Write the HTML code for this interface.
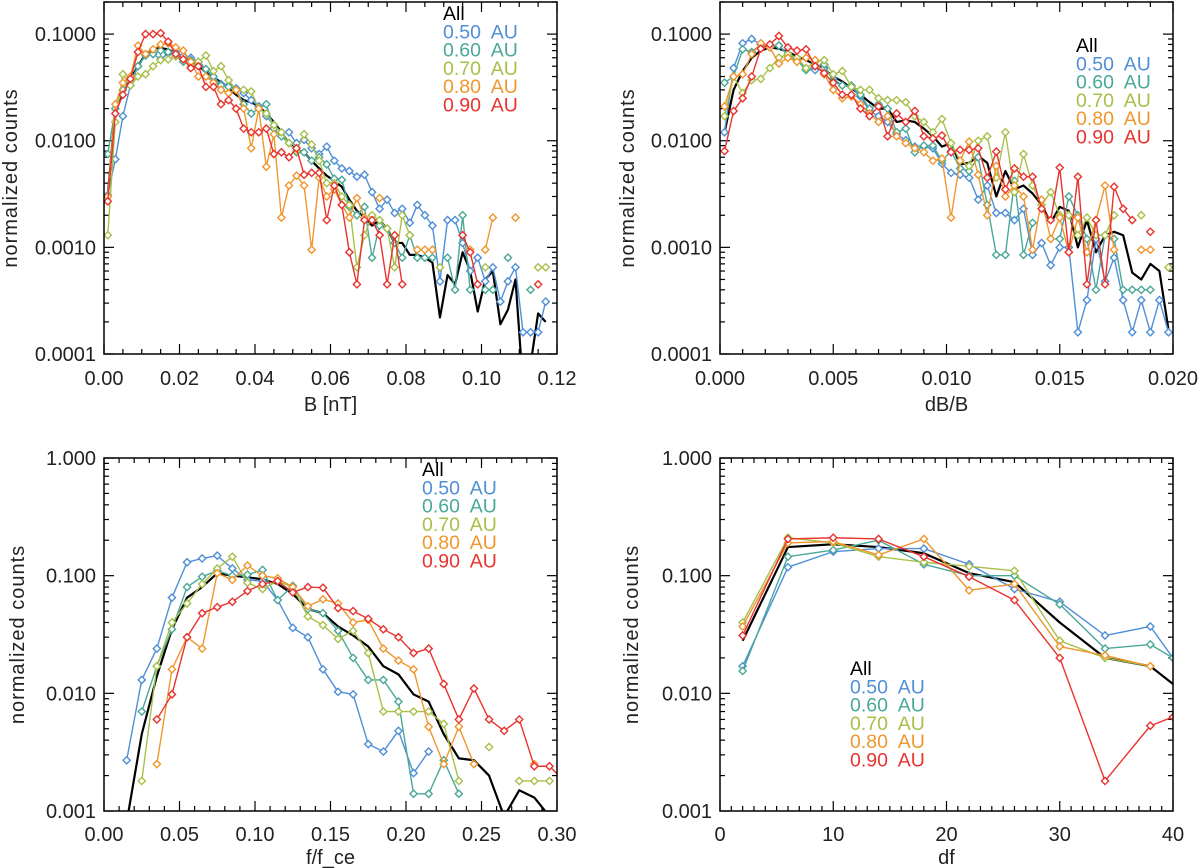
<!DOCTYPE html>
<html><head><meta charset="utf-8">
<style>
body{margin:0;background:#fff;}
svg{display:block;font-family:"Liberation Sans",sans-serif;}
</style></head>
<body>
<svg id="chart" width="1200" height="868" viewBox="0 0 1200 868" xmlns="http://www.w3.org/2000/svg"></svg>
<script>
// ---------- Panel A: B [nT] ----------
const aX0 = 0.001, aStep = 0.002;
const aAll = [0.003,0.02,0.028,0.038,0.05,0.065,0.072,0.074,0.072,0.066,0.06,0.055,0.05,0.044,0.04,0.035,0.031,0.027,0.024,0.023,0.021,0.018,0.015,0.012,0.0095,0.0082,0.0078,0.0065,0.0055,0.0047,0.0042,0.0037,0.0028,0.0022,0.0019,0.0016,0.0018,0.0015,0.0011,0.0011,0.00085,0.00085,0.0008,0.00072,0.00022,0.00055,0.00045,0.0009,0.0006,0.00025,0.0005,0.0006,0.00019,0.00026,0.0005,0.00005,0.00008,0.00024,0.0002];
const a50 = [0.0031,0.0067,0.017,0.033,0.05,0.064,0.065,0.058,0.066,0.068,0.062,0.06,0.055,0.047,0.038,0.034,0.033,0.031,0.028,0.024,0.021,0.017,0.014,0.012,0.012,0.0095,0.0102,0.0085,0.0075,0.0088,0.0065,0.0055,0.0052,0.0046,0.0048,0.0033,0.0023,0.0028,0.0021,0.0023,0.0017,0.0025,0.002,0.0016,0.00048,0.0018,0.0018,0.0011,0.0006,0.0008,0.00048,0.00065,0.00031,0.00048,0.00065,0.00016,0.00016,0.00016,0.00031];
const a60 = [0.0075,0.02,0.03,0.036,0.05,0.063,0.065,0.07,0.068,0.062,0.055,0.057,0.052,0.047,0.04,0.033,0.032,0.03,0.022,0.018,0.02,0.022,0.013,0.011,0.0095,0.0078,0.0078,0.0065,0.007,0.006,0.0044,0.0043,0.0024,0.002,0.0024,0.0008,0.0016,0.0015,0.0011,0.0008,0.0013,0.0008,0.0008,0.0008,null,0.0008,0.0004,0.002,0.0004,null,0.0004,0.0004,null,0.0008,null,null,0.0004,null,null];
const a70 = [0.0013,0.015,0.042,0.033,0.04,0.042,0.05,0.057,0.058,0.062,0.058,0.05,0.055,0.063,0.045,0.05,0.037,0.03,0.03,0.029,0.02,0.018,0.014,0.012,0.0095,0.008,0.0115,0.0092,0.0065,0.004,0.004,0.003,0.0025,0.00065,0.0013,0.002,0.0018,0.0015,0.00065,0.002,0.0013,null,null,null,0.00065,null,null,null,null,null,0.00065,null,null,null,null,null,null,0.00065,0.00065];
const a80 = [0.003,0.022,0.035,0.04,0.078,0.065,0.072,0.08,0.082,0.075,0.07,0.055,0.04,0.04,0.035,0.03,0.028,0.03,0.02,0.0085,0.02,0.0057,0.0115,0.0019,0.0038,0.0047,0.0038,0.00095,0.0045,0.003,0.0035,0.0025,0.0019,0.0029,0.0019,null,0.0029,null,null,null,null,0.00095,0.00095,0.00095,null,null,null,null,0.00095,null,0.00095,0.0019,null,null,0.0019,null,null,null,null];
const a90 = [0.0027,0.018,0.027,0.038,0.068,0.1,0.1,0.102,0.085,0.065,0.058,0.048,0.05,0.032,0.032,0.022,0.024,0.02,0.013,0.012,0.012,0.013,0.0075,0.0078,0.007,0.0085,0.0048,0.005,0.005,0.0018,0.0038,0.0025,0.0009,0.00045,0.0018,0.0018,0.0013,0.00045,0.0013,0.00045,null,null,null,null,null,null,null,0.0013,0.0009,0.00045,null,null,null,null,null,null,null,0.00045,null];
// ---------- Panel B: dB/B ----------
const bX0 = 0.0002, bStep = 0.0004;
const bAll = [0.012,0.03,0.045,0.06,0.07,0.075,0.073,0.068,0.062,0.057,0.052,0.047,0.04,0.036,0.031,0.027,0.023,0.02,0.02,0.015,0.0155,0.015,0.013,0.011,0.0088,0.0095,0.006,0.0062,0.0072,0.0062,0.003,0.0052,0.0035,0.0038,0.0032,0.0025,0.0017,0.0024,0.0022,0.001,0.0018,0.0009,0.0013,0.0014,0.0013,0.00058,0.0005,0.0007,0.0006,0.00017];
const b50 = [0.012,0.048,0.082,0.09,0.08,0.075,0.078,0.065,0.058,0.047,0.046,0.048,0.038,0.033,0.032,0.026,0.019,0.017,0.015,0.0115,0.0101,0.0088,0.0088,0.0085,0.0061,0.005,0.0048,0.0045,0.0028,0.0038,0.0021,0.0021,0.0018,0.0023,0.00085,0.0011,0.00068,0.001,0.001,0.00016,0.00032,0.0012,0.00048,0.0008,0.00032,0.00016,0.00032,0.00016,0.00032,0.00016];
const b60 = [0.035,0.04,0.072,0.068,0.08,0.078,0.078,0.063,0.057,0.046,0.05,0.052,0.036,0.033,0.033,0.027,0.02,0.022,0.02,0.012,0.013,0.0078,0.009,0.009,0.0065,0.008,0.0055,0.0052,0.007,0.0025,0.00085,0.00085,0.0042,0.00085,0.0017,null,0.0012,0.0012,0.003,0.002,0.0012,0.0004,0.0013,0.0012,0.0004,0.0004,0.0004,0.0004,null,null];
const b70 = [0.017,0.04,0.028,0.037,0.038,0.048,0.06,0.065,0.06,0.048,0.055,0.057,0.042,0.045,0.032,0.03,0.03,0.025,0.024,0.024,0.023,0.017,0.015,0.012,0.016,0.0095,0.0065,0.0058,0.01,0.011,0.0045,0.012,0.0033,0.0075,0.0038,0.0025,0.0033,0.002,0.002,0.0013,0.0019,0.0013,0.0013,0.002,null,null,0.002,null,null,0.00065];
const b80 = [0.021,0.04,0.042,0.065,0.082,0.075,0.053,0.06,0.055,0.06,0.057,0.042,0.03,0.025,0.026,0.022,0.018,0.015,0.017,0.011,0.0095,0.0085,0.0078,0.0065,0.0068,0.0019,0.0065,0.0098,0.0048,0.002,0.0058,0.003,0.0038,0.003,0.00095,0.0028,0.0012,0.0019,0.0009,0.0019,0.0009,0.0018,0.0038,0.00095,null,null,0.00095,0.00095,null,null];
const b90 = [0.008,0.019,0.025,0.04,0.073,0.08,0.096,0.075,0.07,0.072,0.05,0.043,0.035,0.027,0.027,0.02,0.017,0.021,0.011,0.018,0.015,0.019,0.011,0.0105,0.0112,0.0078,0.0082,0.0082,0.0085,0.0045,0.0079,0.0035,0.0055,0.0046,0.0046,0.0023,0.0018,0.0056,0.0009,0.0046,0.00045,0.0018,0.00045,0.0037,0.0023,0.0018,null,0.0014,null,null];
// ---------- Panel C: f/f_ce ----------
const cX0 = 0.015, cStep = 0.01;
const cAll = [0.0008,0.0045,0.014,0.035,0.065,0.08,0.105,0.1,0.097,0.093,0.085,0.07,0.052,0.048,0.037,0.031,0.025,0.017,0.0145,0.0098,0.0085,0.0045,0.0028,0.0027,0.002,0.0009,0.0015,0.0013,0.0009];
const c50 = [0.0027,0.013,0.024,0.065,0.13,0.14,0.148,0.115,0.092,0.09,0.062,0.036,0.03,0.016,0.0103,0.0098,0.0037,0.0032,0.0048,0.0021,0.0032];
const c60 = [null,0.007,0.017,0.035,0.08,0.098,0.11,0.1,0.102,0.112,0.062,0.082,0.052,0.048,0.034,0.02,0.013,0.013,0.0085,0.0014,0.0014,0.0027,0.0014];
const c70 = [null,0.0018,0.017,0.04,0.058,0.085,0.115,0.145,0.087,0.077,0.09,0.08,0.045,0.038,0.029,0.034,0.022,0.007,0.007,0.007,0.007,0.0055,0.0018,null,0.0035,null,0.0018,0.0018,0.0018];
const c80 = [null,null,0.0025,0.016,0.03,0.024,0.105,0.092,0.122,0.1,0.095,0.08,0.055,0.063,0.058,0.04,0.042,0.024,0.019,0.016,0.0052,0.0025,0.0052,0.0025,null,null,null,0.0025];
const c90 = [null,null,0.006,0.0098,0.03,0.048,0.054,0.06,0.074,0.085,0.09,0.072,0.08,0.079,0.053,0.05,0.043,0.035,0.03,0.022,0.024,0.012,0.006,0.011,0.006,0.0048,0.006,0.0024,0.0024,0.0018];
// ---------- Panel D: df ----------
const dXs = [2,6,10,14,18,22,26,30,34,38,40];
const dAll = [0.028,0.175,0.185,0.175,0.155,0.105,0.088,0.04,0.02,0.017,0.012];
const d50 = [0.017,0.118,0.16,0.17,0.17,0.125,0.077,0.06,0.031,0.037,0.02];
const d60 = [0.0155,0.145,0.165,0.2,0.125,0.1,0.1,0.057,0.024,0.026,0.02];
const d70 = [0.04,0.21,0.19,0.145,0.13,0.12,0.11,0.028,0.02,0.017];
const d80 = [0.037,0.19,0.195,0.15,0.205,0.075,0.085,0.025,0.021,0.017];
const d90 = [0.031,0.205,0.21,0.205,0.145,0.098,0.062,0.02,0.0018,0.0053,0.0063];

const legendLabels = ["All","0.50  AU","0.60  AU","0.70  AU","0.80  AU","0.90  AU"];
const colors = ["#000000","#4f8fd6","#4aa898","#a7c04a","#f0962e","#e8332e"];
const aTicks = ["0.00","0.02","0.04","0.06","0.08","0.10","0.12"];
const bTicks = ["0.000","0.005","0.010","0.015","0.020"];
const cTicks = ["0.00","0.05","0.10","0.15","0.20","0.25","0.30"];
const dTicks = ["0","10","20","30","40"];

const NS = "http://www.w3.org/2000/svg";
const svg = document.getElementById('chart');
function mk(tag, attrs, parent){const e=document.createElementNS(NS,tag);for(const k in attrs)e.setAttribute(k,attrs[k]);(parent||svg).appendChild(e);return e;}

function panel(cfg){
  const g = mk('g',{});
  
  
  const {L,R,T,B,xmin,xmax,ymin,ymax} = cfg;
  const sx = v => L + (v - xmin)/(xmax - xmin)*(R-L);
  const ly0 = Math.log10(ymin), ly1 = Math.log10(ymax);
  const sy = v => B - (Math.log10(v) - ly0)/(ly1 - ly0)*(B-T);
  const xAt = i => cfg.xs ? cfg.xs[i] : cfg.x0 + i*cfg.step;
  const cid = 'clip-' + cfg.name;
  const defs = mk('defs',{},g);
  const cp = mk('clipPath',{id:cid},defs);
  mk('rect',{x:L,y:T,width:R-L,height:B-T},cp);
  const ticks = mk('g',{stroke:'#000','stroke-width':1.2},g);
  
  
  for(let v=xmin, i=0; v<=xmax+1e-9; i++, v = xmin + i*cfg.xminor){
    const major = Math.abs(((v - xmin)/cfg.xmajor) - Math.round((v - xmin)/cfg.xmajor))<1e-6;
    const len = major?10:5, x = sx(v);
    mk('line',{x1:x,y1:B,x2:x,y2:B-len},ticks);
    mk('line',{x1:x,y1:T,x2:x,y2:T+len},ticks);
  }
  for(let d=Math.floor(ly0); d<=Math.ceil(ly1); d++){
    for(let m=1;m<10;m++){
      const v = m*Math.pow(10,d);
      if(v<ymin*0.999||v>ymax*1.001) continue;
      const len = m===1?10:5, y = sy(v);
      mk('line',{x1:L,y1:y,x2:L+len,y2:y},ticks);
      mk('line',{x1:R,y1:y,x2:R-len,y2:y},ticks);
    }
  }
  cfg.xTicks.forEach((t,i)=>{
    const tx = mk('text',{x:sx(xmin+i*cfg.xmajor),y:cfg.xLabelY,'text-anchor':'middle','font-size':20,fill:'#222'},g);
    tx.textContent=t;
    
    
  });
  cfg.yTicks.forEach(([v,t])=>{
    const tx = mk('text',{x:L-8,y:sy(v)+7,'text-anchor':'end','font-size':20,fill:'#222'},g);
    tx.textContent=t;
    
    
  });
  const xt = mk('text',{x:(L+R)/2,y:cfg.xTitleY,'text-anchor':'middle','font-size':20,fill:'#222'},g);
  xt.textContent = cfg.xTitle;
  
  
  const yt = mk('text',{x:0,y:0,'text-anchor':'middle','font-size':20,'letter-spacing':1,fill:'#222',transform:`translate(${cfg.yTitleX},${(T+B)/2}) rotate(-90)`},g);
  yt.textContent = 'normalized  counts';
  
  
  const plot = mk('g',{'clip-path':`url(#${cid})`},g);
  cfg.series.forEach((s,si)=>{
    const sg = mk('g',{},plot);
    
    
    let segs=[], cur=[];
    s.forEach((v,i)=>{
      const x = sx(xAt(i));
      if(v==null){ if(cur.length) segs.push(cur); cur=[]; return; }
      const y = Math.min(sy(v), B+200);
      cur.push([x,y]);
    });
    if(cur.length) segs.push(cur);
    segs.forEach(sgm=>{
      if(sgm.length>1){
        const p = mk('polyline',{points:sgm.map(p=>p.join(',')).join(' '),fill:'none',stroke:colors[si],'stroke-width':si===0?2.2:1.4,'stroke-linejoin':'round'},sg);
        
        
      }
    });
    if(si>0){
      s.forEach((v,i)=>{
        if(v==null) return;
        const x = sx(xAt(i)), y = sy(v), r=3.6;
        const d = mk('polygon',{points:`${x},${y-r} ${x+r},${y} ${x},${y+r} ${x-r},${y}`,fill:'#fff',stroke:colors[si],'stroke-width':1.4},sg);
        
        
      });
    }
  });
  const fr = mk('rect',{x:L,y:T,width:R-L,height:B-T,fill:'none',stroke:'#000','stroke-width':1.5},g);
  
  
  const lg = mk('g',{},g);
  
  
  legendLabels.forEach((t,i)=>{
    const tx = mk('text',{x:cfg.legX,y:cfg.legY+i*18.3,'font-size':19.5,fill:colors[i]},lg);
    tx.style.whiteSpace='pre';
    tx.textContent=t;
    
    
  });
}

panel({name:'panel-b-field',L:104,R:557,T:2,B:354,xmin:0,xmax:0.12,xmajor:0.02,xminor:0.005,ymin:1e-4,ymax:0.2,
  x0:aX0,step:aStep,series:[aAll,a50,a60,a70,a80,a90],xTicks:aTicks,
  yTicks:[[0.1,'0.1000'],[0.01,'0.0100'],[0.001,'0.0010'],[0.0001,'0.0001']],
  xLabelY:385,xTitle:'B [nT]',xTitleY:411,yTitleX:17,legX:443,legY:20});
panel({name:'panel-db-over-b',L:720,R:1173,T:2,B:354,xmin:0,xmax:0.02,xmajor:0.005,xminor:0.001,ymin:1e-4,ymax:0.2,
  x0:bX0,step:bStep,series:[bAll,b50,b60,b70,b80,b90],xTicks:bTicks,
  yTicks:[[0.1,'0.1000'],[0.01,'0.0100'],[0.001,'0.0010'],[0.0001,'0.0001']],
  xLabelY:385,xTitle:'dB/B',xTitleY:411,yTitleX:634,legX:1076,legY:52});
panel({name:'panel-f-over-fce',L:104,R:557,T:458,B:811,xmin:0,xmax:0.3,xmajor:0.05,xminor:0.01,ymin:1e-3,ymax:1,
  x0:cX0,step:cStep,series:[cAll,c50,c60,c70,c80,c90],xTicks:cTicks,
  yTicks:[[1,'1.000'],[0.1,'0.100'],[0.01,'0.010'],[0.001,'0.001']],
  xLabelY:841,xTitle:'f/f_ce',xTitleY:864,yTitleX:24,legX:422,legY:476});
panel({name:'panel-df',L:720,R:1173,T:458,B:811,xmin:0,xmax:40,xmajor:10,xminor:1,ymin:1e-3,ymax:1,
  xs:dXs,series:[dAll,d50,d60,d70,d80,d90],xTicks:dTicks,
  yTicks:[[1,'1.000'],[0.1,'0.100'],[0.01,'0.010'],[0.001,'0.001']],
  xLabelY:841,xTitle:'df',xTitleY:864,yTitleX:638,legX:850,legY:675});
</script>
</body></html>
